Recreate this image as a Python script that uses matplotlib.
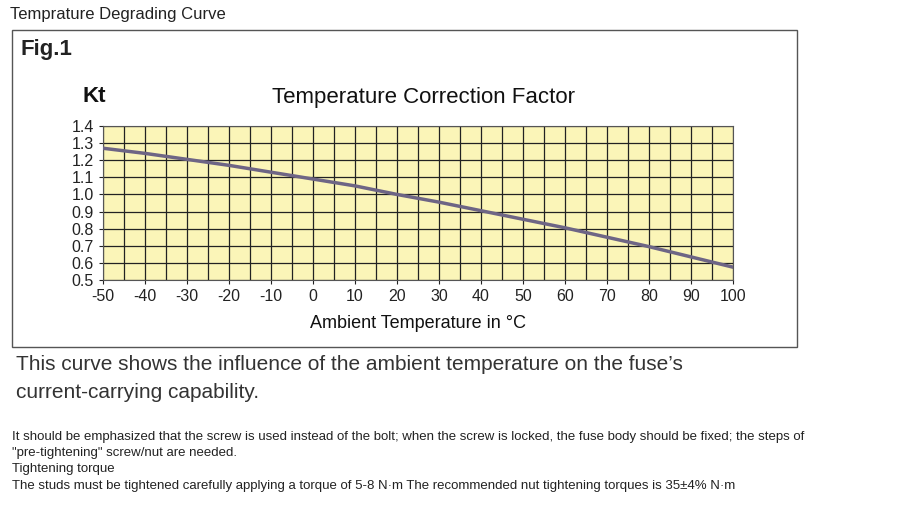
import matplotlib
matplotlib.use("Agg")
import matplotlib.pyplot as plt
from matplotlib.patches import Rectangle
import numpy as np

plt.rcParams["font.family"] = ["Liberation Sans", "DejaVu Sans"]
plt.rcParams["axes.unicode_minus"] = False

# Kt vs ambient temperature
temps = [-50, -40, -30, -20, -10, 0, 10, 20, 30, 40, 50, 60, 70, 80, 90, 100]
kt = [1.27, 1.24, 1.205, 1.17, 1.13, 1.09, 1.05, 1.0, 0.955, 0.905,
      0.855, 0.805, 0.75, 0.695, 0.635, 0.575]
yticks = [0.5, 0.6, 0.7, 0.8, 0.9, 1.0, 1.1, 1.2, 1.3, 1.4]

W, H = 924, 516
fig = plt.figure(figsize=(9.24, 5.16), dpi=100)

def fx(px): return px / W
def fy(py): return 1 - py / H

fig.text(fx(10), fy(14), "Temprature Degrading Curve", fontsize=12, va="center", color="#222")
fig.patches.append(Rectangle((fx(12), fy(347)), fx(797) - fx(12), fy(30) - fy(347),
                             transform=fig.transFigure, fill=False, ec="#555", lw=1))
fig.text(fx(20), fy(50), "Fig.1", fontsize=16, fontweight="bold", va="center", color="#222")
fig.text(fx(83), fy(97), "Kt", fontsize=16, fontweight="bold", va="center", color="#111")
fig.text(fx(423), fy(97), "Temperature Correction Factor", fontsize=16, ha="center", va="center", color="#111")

ax = fig.add_axes([fx(103), fy(280), fx(733) - fx(103), fy(126) - fy(280)])
ax.set_facecolor("#fbf5b8")
ax.plot(temps, kt, color="#6e6585", lw=2.5, zorder=3)
ax.set_xlim(-50, 100)
ax.set_ylim(0.5, 1.4)
ax.set_xticks(np.arange(-50, 101, 10))
ax.set_xticks(np.arange(-50, 101, 5), minor=True)
ax.set_yticks(yticks)
ax.grid(which="major", color="#222", lw=0.9)
ax.grid(which="minor", axis="x", color="#222", lw=0.9)
ax.tick_params(labelsize=11.5, length=3, colors="#222")
ax.tick_params(which="minor", length=0)
for s in ax.spines.values():
    s.set_color("#555")
ax.set_xlabel("Ambient Temperature in °C", fontsize=13, color="#111", labelpad=8)

fig.text(fx(16), fy(365), "This curve shows the influence of the ambient temperature on the fuse\u2019s",
         fontsize=15, va="center", color="#333")
fig.text(fx(16), fy(393), "current-carrying capability.", fontsize=15, va="center", color="#333")

lines = [
    (437, "It should be emphasized that the screw is used instead of the bolt; when the screw is locked, the fuse body should be fixed; the steps of"),
    (453, "\"pre-tightening\" screw/nut are needed."),
    (469, "Tightening torque"),
    (486, "The studs must be tightened carefully applying a torque of 5-8 N\u00b7m The recommended nut tightening torques is 35\u00b14% N\u00b7m"),
]
for py, t in lines:
    fig.text(fx(12), fy(py), t, fontsize=9.5, va="center", color="#222")

fig.savefig("out.png", dpi=100)
